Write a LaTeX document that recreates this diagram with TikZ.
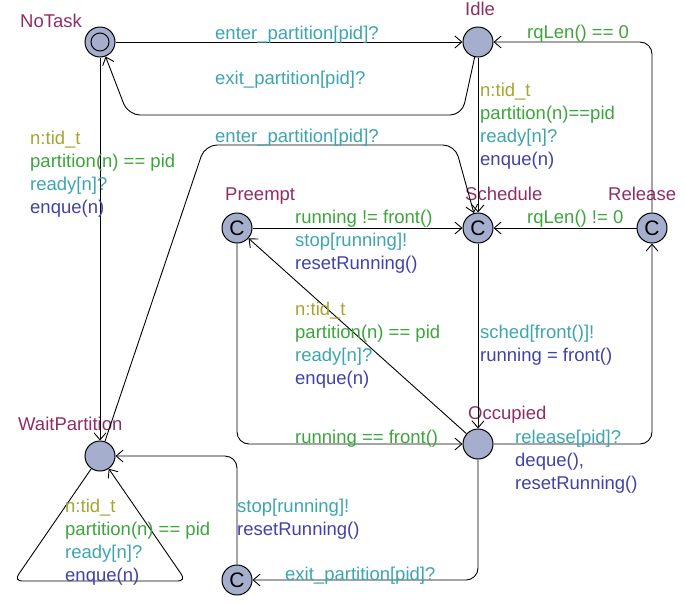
\documentclass[tikz,border=0pt]{standalone}
\usepackage{fontspec}
\setmainfont{Liberation Sans}
\usepackage{tikz}
\usetikzlibrary{arrows.meta}
\definecolor{locname}{RGB}{145,45,100}
\definecolor{selcol}{RGB}{165,165,50}
\definecolor{grdcol}{RGB}{60,165,60}
\definecolor{syncol}{RGB}{60,165,175}
\definecolor{updcol}{RGB}{65,65,170}
\definecolor{locfill}{RGB}{165,175,205}
\newcommand{\sel}[1]{\textcolor{selcol}{#1}}
\newcommand{\grd}[1]{\textcolor{grdcol}{#1}}
\newcommand{\syn}[1]{\textcolor{syncol}{#1}}
\newcommand{\upd}[1]{\textcolor{updcol}{#1}}
\tikzset{
  loc/.style={circle, draw, fill=locfill, minimum size=30pt, inner sep=0pt, line width=1pt},
  committed/.style={loc, font=\fontsize{21}{21}\selectfont},
  trans/.style={line width=0.9pt, -{Straight Barb[length=7pt,width=12pt]}},
  lbl/.style={anchor=base west, align=left, inner sep=0pt, font=\fontsize{18.5}{23}\selectfont},
  nm/.style={lbl, text=locname},
}
\begin{document}
\begin{tikzpicture}[x=1pt, y=-1pt]
			\useasboundingbox (0,0) rectangle (685,603);
			\node[loc] (notask) at (100,42) {};
			\draw[line width=1pt] (notask.center) circle (9pt);
			\node[loc] (idle) at (478,42) {};
			\node[committed] (preempt) at (237,228) {C};
			\node[committed] (sched) at (478,228) {C};
			\node[committed] (release) at (652,228) {C};
			\node[loc] (waitp) at (100,456) {};
			\node[loc] (occ) at (478,444) {};
			\node[committed] (exitc) at (237,580) {C};

			\node[nm] (nm-notask) at (20,27) {NoTask};
			\node[nm] (nm-idle) at (465,15) {Idle};
			\node[nm] (nm-preempt) at (225,200) {Preempt};
			\node[nm] (nm-sched) at (465,200) {Schedule};
			\node[nm] (nm-release) at (608,200) {Release};
			\node[nm] (nm-waitp) at (18,430) {WaitPartition};
			\node[nm] (nm-occ) at (468,419) {Occupied};

			\path[trans]
			(notask) edge (idle)
					edge (waitp)
			(idle) edge (sched)
			(preempt) edge (sched)
			(release) edge (sched)
			(sched) edge (occ)
			(occ) edge (preempt);
			\draw[trans, rounded corners=12pt] (idle) -- (462,115) -- (128,115) -- (notask);
			\draw[trans, rounded corners=12pt] (release) |- (idle);
			\draw[trans, rounded corners=12pt] (waitp) -- (205,145) -- (455,145) -- (sched);
			\draw[trans, rounded corners=12pt] (preempt) |- (occ);
			\draw[trans, rounded corners=12pt] (occ) -| (release);
			\draw[trans, rounded corners=12pt] (occ) |- (exitc);
			\draw[trans, rounded corners=12pt] (exitc) |- (waitp);
			\draw[trans, rounded corners=8pt] (waitp) -- (14,581) -- (186,581) -- (waitp);

			\node[lbl] (l-enter) at (215,39) {\syn{enter\_partition[pid]?}};
			\node[lbl] (l-exit) at (215,84) {\syn{exit\_partition[pid]?}};
			\node[lbl] (l-empty) at (527,38) {\grd{rqLen() == 0}};
			\node[lbl] (l-idle) at (480,165) {\sel{n:tid\_t}\\\grd{partition(n)==pid}\\\syn{ready[n]?}\\\upd{enque(n)}};
			\node[lbl] (l-notask) at (30,213) {\sel{n:tid\_t}\\\grd{partition(n) == pid}\\\syn{ready[n]?}\\\upd{enque(n)}};
			\node[lbl] (l-wait) at (215,142) {\syn{enter\_partition[pid]?}};
			\node[lbl] (l-preempt) at (295,269) {\grd{running != front()}\\\syn{stop[running]!}\\\upd{resetRunning()}};
			\node[lbl] (l-release) at (527,223) {\grd{rqLen() != 0}};
			\node[lbl] (l-sched) at (480,361) {\syn{sched[front()]!}\\\upd{running = front()}};
			\node[lbl] (l-occ) at (295,384) {\sel{n:tid\_t}\\\grd{partition(n) == pid}\\\syn{ready[n]?}\\\upd{enque(n)}};
			\node[lbl] (l-same) at (295,443) {\grd{running == front()}};
			\node[lbl] (l-done) at (515,489) {\syn{release[pid]?}\\\upd{deque(),}\\\upd{resetRunning()}};
			\node[lbl] (l-stop) at (237,535) {\syn{stop[running]!}\\\upd{resetRunning()}};
			\node[lbl] (l-loop) at (65,581) {\sel{n:tid\_t}\\\grd{partition(n) == pid}\\\syn{ready[n]?}\\\upd{enque(n)}};
			\node[lbl] (l-leave) at (285,580) {\syn{exit\_partition[pid]?}};
		\end{tikzpicture}
\end{document}
